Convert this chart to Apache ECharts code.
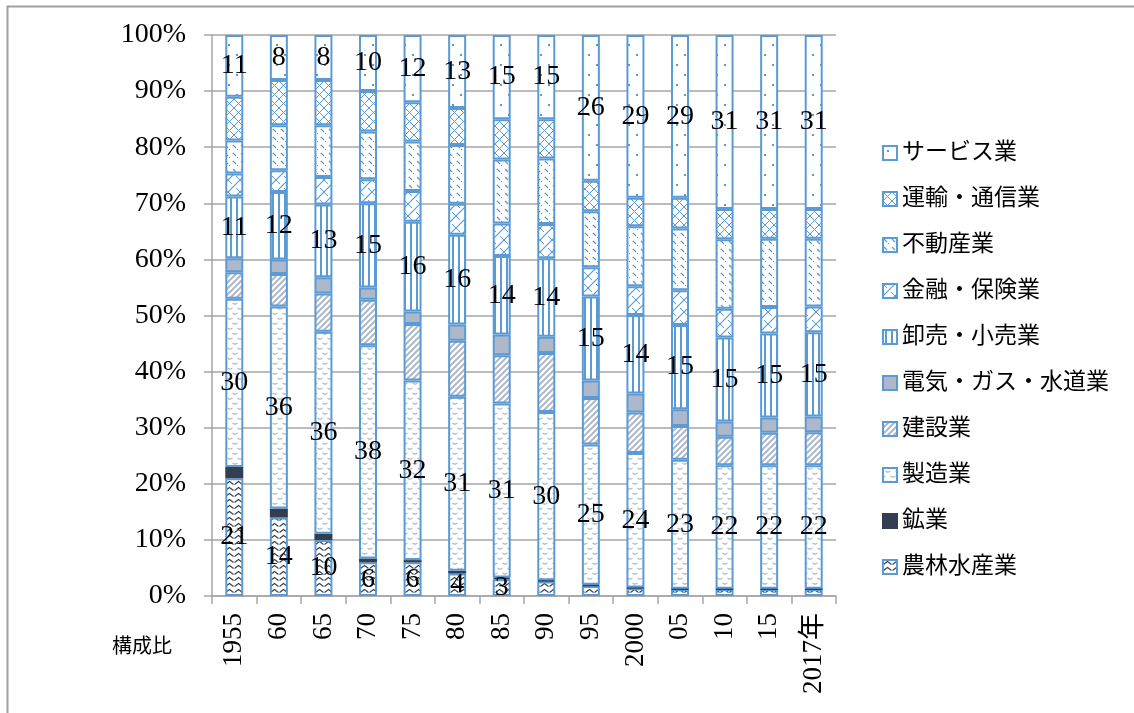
<!DOCTYPE html>
<html>
<head>
<meta charset="utf-8">
<script src="https://cdn.jsdelivr.net/npm/echarts@6/dist/echarts.min.js"></script>
<style>
  html, body { margin: 0; padding: 0; background: #fff; }
  #chart { width: 1134px; height: 713px; }
</style>
</head>
<body>
<div id="chart"></div>
<script>
// 産業別就業者の構成比（%）
const years = ['1955', '60', '65', '70', '75', '80', '85', '90', '95', '2000', '05', '10', '15', '2017年'];

const agriculture  = [21, 14, 10, 6, 6, 4, 3, 2.6, 1.8, 1.4, 1.2, 1.2, 1.2, 1.2];
const mining       = [2, 1.6, 1.1, 0.7, 0.4, 0.5, 0.3, 0.2, 0.2, 0.1, 0.1, 0.1, 0.1, 0.1];
const manufacture  = [30, 36, 36, 38, 32, 31, 31, 30, 25, 24, 23, 22, 22, 22];
const construction = [4.7, 5.8, 6.8, 8.1, 10.1, 10.0, 8.6, 10.5, 8.3, 7.2, 6.0, 5.1, 5.8, 5.9];
const utilities    = [2.5, 2.6, 2.9, 2.2, 2.2, 2.9, 3.7, 2.9, 3.1, 3.4, 3.0, 2.7, 2.7, 2.8];
const trade        = [11, 12, 13, 15, 16, 16, 14, 14, 15, 14, 15, 15, 15, 15];
const finance      = [4.1, 3.9, 4.9, 4.3, 5.5, 5.5, 5.8, 6.1, 5.2, 5.1, 6.2, 5.1, 4.7, 4.6];
const realEstate   = [5.9, 8.0, 9.2, 8.5, 8.8, 10.5, 11.4, 11.7, 10.0, 10.7, 11.0, 12.4, 12.2, 12.1];
const transport    = [7.8, 8.1, 8.1, 7.2, 7.0, 6.6, 7.2, 7.0, 5.4, 5.1, 5.5, 5.4, 5.3, 5.3];
const services     = [11, 8, 8, 10, 12, 13, 15, 15, 26, 29, 29, 31, 31, 31];

const yTicks = [0, 10, 20, 30, 40, 50, 60, 70, 80, 90, 100];

const BLUE = '#5B9BD5';
const GREY = '#ADB9CA';
const DARK = '#333F50';
const SERIF = '"Liberation Serif", "Noto Sans CJK JP", serif';

// --- fill patterns -------------------------------------------------------
function tile(w, h, draw) {
  const c = document.createElement('canvas');
  c.width = w; c.height = h;
  const g = c.getContext('2d');
  g.fillStyle = '#fff';
  g.fillRect(0, 0, w, h);
  draw(g, w, h);
  return { image: c, repeat: 'repeat' };
}
function line(g, pts, color, width) {
  g.strokeStyle = color; g.lineWidth = width;
  g.beginPath();
  g.moveTo(pts[0][0], pts[0][1]);
  for (let i = 1; i < pts.length; i++) g.lineTo(pts[i][0], pts[i][1]);
  g.stroke();
}

const patDots = tile(16, 20, (g) => {
  g.fillStyle = BLUE;
  g.fillRect(4, 4, 2, 2);
  g.fillRect(12, 14, 2, 2);
});
const patCross = tile(9, 9, (g, w, h) => {
  line(g, [[0, 0], [w, h]], BLUE, 1);
  line(g, [[0, h], [w, 0]], BLUE, 1);
});
const patDash = tile(8, 8, (g) => {
  line(g, [[1, 1], [4, 4]], BLUE, 1.2);
  line(g, [[5, 5], [6, 6]], BLUE, 1.0);
});
const patLattice = tile(12, 12, (g, w, h) => {
  line(g, [[0, h], [w, 0]], BLUE, 1.2);
  line(g, [[0, 0], [4, 4]], BLUE, 1);
  line(g, [[8, 8], [12, 12]], BLUE, 1);
});
const patVertical = tile(6, 4, (g) => {
  g.fillStyle = BLUE;
  g.fillRect(2, 0, 2, 4);
});
const patStripe = tile(6, 6, (g) => {
  line(g, [[-1, 7], [7, -1]], GREY, 2);
  line(g, [[-4, 4], [4, -4]], GREY, 2);
  line(g, [[2, 10], [10, 2]], GREY, 2);
});
const patWave = tile(10, 10, (g) => {
  g.strokeStyle = GREY; g.lineWidth = 1.2;
  g.beginPath(); g.arc(5, 1, 3, 0.2 * Math.PI, 0.8 * Math.PI); g.stroke();
  g.beginPath(); g.arc(0, 6, 3, 0.2 * Math.PI, 0.8 * Math.PI); g.stroke();
  g.beginPath(); g.arc(10, 6, 3, 0.2 * Math.PI, 0.8 * Math.PI); g.stroke();
});
const patZigzag = tile(9, 6, (g) => {
  line(g, [[0.5, 4.5], [4.5, 1.5], [8.5, 4.5]], DARK, 1.1);
});

// --- series --------------------------------------------------------------
const inside = (show) => ({
  show: true,
  position: 'inside',
  color: '#000',
  fontFamily: SERIF,
  fontSize: 28,
  textBorderWidth: 0,
  formatter: (p) => (show(p.value) ? String(p.value) : '')
});

function bar(name, values, fill, opts) {
  opts = opts || {};
  return {
    name: name,
    type: 'bar',
    stack: 'total',
    barWidth: 18,
    data: values,
    itemStyle: {
      color: fill,
      borderColor: opts.border || BLUE,
      borderWidth: 2
    },
    label: opts.label || { show: false },
    emphasis: { disabled: true },
    z: 2
  };
}

const series = [
  bar('農林水産業', agriculture, patZigzag, { label: inside((v) => v >= 3) }),
  bar('鉱業', mining, DARK, { border: DARK }),
  bar('製造業', manufacture, patWave, { label: inside(() => true) }),
  bar('建設業', construction, patStripe),
  bar('電気・ガス・水道業', utilities, GREY),
  bar('卸売・小売業', trade, patVertical, { label: inside(() => true) }),
  bar('金融・保険業', finance, patLattice),
  bar('不動産業', realEstate, patDash),
  bar('運輸・通信業', transport, patCross),
  bar('サービス業', services, patDots, { label: inside(() => true) })
];

const chart = echarts.init(document.getElementById('chart'), null, { renderer: 'canvas' });

chart.setOption({
  animation: false,
  backgroundColor: '#fff',
  grid: { left: 212, top: 35, width: 624, height: 561, containLabel: false },
  legend: {
    orient: 'vertical',
    left: 877,
    top: 136,
    itemWidth: 14,
    itemHeight: 14,
    itemGap: 22,
    icon: 'rect',
    selectedMode: false,
    data: series.map((s) => s.name).reverse(),
    textStyle: { fontFamily: SERIF, fontSize: 23, color: '#000', lineHeight: 24 }
  },
  xAxis: {
    type: 'category',
    data: years,
    axisLine: { lineStyle: { color: '#A6A6A6', width: 1.5 } },
    axisTick: { show: true, length: 8, lineStyle: { color: '#A6A6A6', width: 1.5 } },
    axisLabel: {
      rotate: 90,
      margin: 17,
      color: '#000',
      fontFamily: SERIF,
      fontSize: 27
    }
  },
  yAxis: {
    type: 'value',
    min: yTicks[0],
    max: yTicks[yTicks.length - 1],
    interval: yTicks[1] - yTicks[0],
    axisLine: { show: true, lineStyle: { color: '#A6A6A6', width: 1.5 } },
    axisTick: { show: true, length: 8, lineStyle: { color: '#A6A6A6', width: 1.5 } },
    splitLine: { lineStyle: { color: '#A6A6A6', width: 1.5 } },
    axisLabel: {
      margin: 26,
      color: '#000',
      fontFamily: SERIF,
      fontSize: 28,
      formatter: '{value}%'
    }
  },
  graphic: [
    {
      type: 'rect',
      left: 5, top: 4,
      shape: { width: 1200, height: 800 },
      style: { fill: 'none', stroke: '#A0A0A0', lineWidth: 2 },
      silent: true
    },
    {
      type: 'text',
      left: 112, top: 638,
      style: { text: '構成比', fill: '#000', font: '20px ' + SERIF }
    }
  ],
  series: series
});
</script>
</body>
</html>
